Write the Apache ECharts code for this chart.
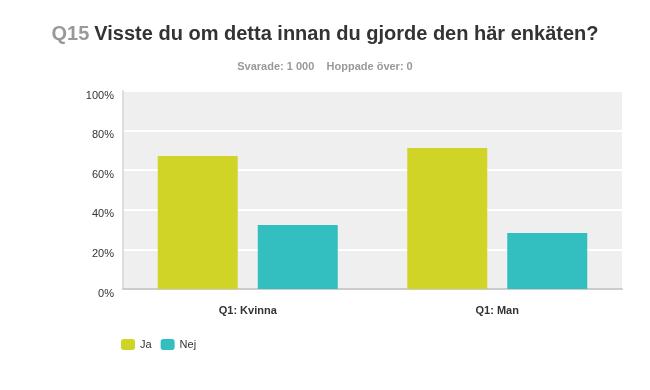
<!DOCTYPE html>
<html><head><meta charset="utf-8">
<script src="https://cdn.jsdelivr.net/npm/echarts@6/dist/echarts.min.js"></script>
<style>html,body{margin:0;padding:0;background:#fff}#c{width:650px;height:390px}</style>
</head><body><div id="c"></div>
<script>
var categories = ['Q1: Kvinna', 'Q1: Man'];
var seriesNames = ['Ja', 'Nej'];
var jaValues = [67.2, 71.2];
var nejValues = [32.3, 28.3];
var yTicks = [0, 20, 40, 60, 80, 100];

var chart = echarts.init(document.getElementById('c'), null, {renderer: 'canvas'});
var font = '"Liberation Sans", Arial, sans-serif';
chart.setOption({
  animation: false,
  textStyle: {fontFamily: font},
  title: [{
    text: '{q|Q15} {m|Visste du om detta innan du gjorde den här enkäten?}',
    left: 320, top: 19, textAlign: 'center',
    textStyle: {rich: {
      q: {fontSize: 20, fontWeight: 'bold', color: '#999', fontFamily: font},
      m: {fontSize: 20, fontWeight: 'bold', color: '#333', fontFamily: font}
    }}
  }, {
    text: 'Svarade: 1 000    Hoppade över: 0',
    left: 320, top: 56, textAlign: 'center',
    textStyle: {fontSize: 11, fontWeight: 'bold', color: '#999', fontFamily: font}
  }],
  legend: {
    data: seriesNames, left: 116, top: 334, icon: 'roundRect',
    itemWidth: 14, itemHeight: 11, itemGap: 9,
    textStyle: {fontSize: 11, color: '#333', fontFamily: font}
  },
  grid: {left: 123, right: 28, top: 91, bottom: 101, show: true, backgroundColor: '#efefef', borderWidth: 0},
  xAxis: {
    type: 'category', data: categories,
    axisLine: {lineStyle: {color: '#ccc', width: 2}},
    axisTick: {show: false},
    axisLabel: {fontSize: 11, fontWeight: 'bold', color: '#333', margin: 16}
  },
  yAxis: {
    type: 'value', min: yTicks[0], max: yTicks[yTicks.length-1], interval: 20,
    axisLine: {show: true, lineStyle: {color: '#ddd', width: 2}},
    axisTick: {show: false},
    splitLine: {lineStyle: {color: '#fff', width: 2}},
    axisLabel: {
      formatter: function (v) { return '{a|' + v + '%}'; },
      margin: 9,
      rich: {a: {fontSize: 11, color: '#333', fontFamily: font, padding: [9, 0, 0, 0]}}
    }
  },
  series: [
    {name: seriesNames[0], type: 'bar', data: jaValues, barWidth: 80, barGap: '25%', itemStyle: {color: '#cfd427'}},
    {name: seriesNames[1], type: 'bar', data: nejValues, barWidth: 80, itemStyle: {color: '#33bec0'}}
  ]
});
</script></body></html>
